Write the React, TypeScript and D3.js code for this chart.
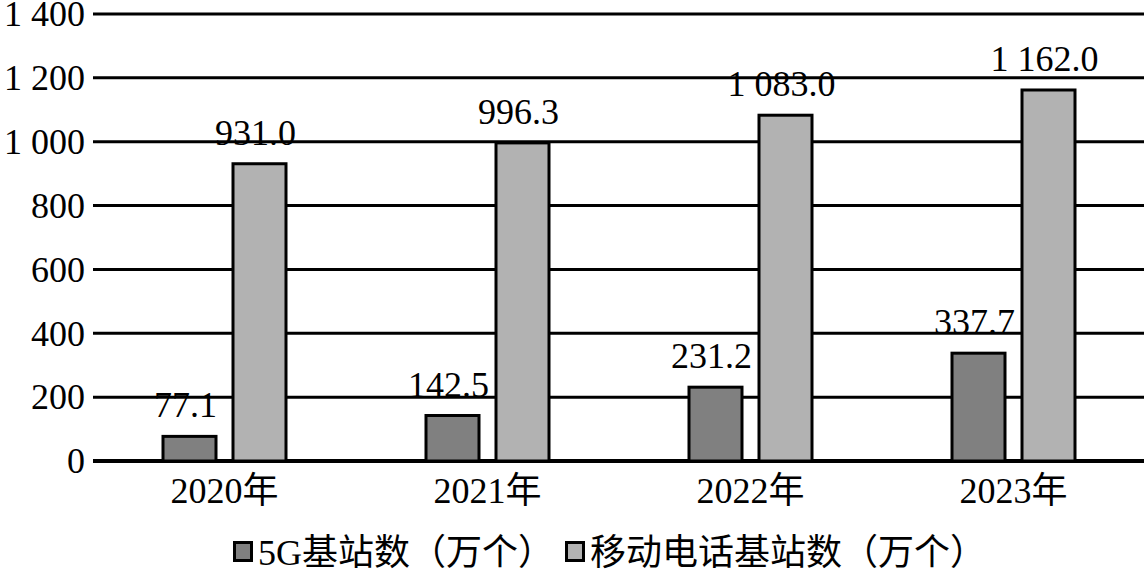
import { useEffect, useRef } from 'react';
import * as d3 from 'd3';

const years = ['2020年', '2021年', '2022年', '2023年'];
const seriesNames = ['5G基站数（万个）', '移动电话基站数（万个）'];
const fiveG = [77.1, 142.5, 231.2, 337.7];
const mobile = [931.0, 996.3, 1083.0, 1162.0];
const yTicks = [0, 200, 400, 600, 800, 1000, 1200, 1400];
const colors = ['#808080', '#b2b2b2'];

const locale = d3.formatLocale({ decimal: '.', thousands: ' ', grouping: [3], currency: ['', ''] });
const fmtTick = locale.format(',d');
const fmtVal = locale.format(',.1f');

export default function App() {
  const svgRef = useRef<SVGSVGElement>(null);

  useEffect(() => {
    if (!svgRef.current) return;
    const svg = d3.select(svgRef.current);
    svg.selectAll('*').remove();

    const width = 1144;
    const left = 93;
    const font = 'Liberation Serif';
    const cjkFont = "'Liberation Serif', 'Noto Sans CJK SC', serif";

    const y = d3.scaleLinear().domain([0, 1400]).range([461, 14]);
    const x0 = d3.scaleBand<string>().domain(years).range([left, left + 4 * 263]);
    const x1 = d3.scaleBand<number>().domain([0, 1]).range([0, 126]).paddingInner(0.2);

    // gridlines
    svg.append('g')
      .selectAll('line')
      .data(yTicks)
      .join('line')
      .attr('x1', left)
      .attr('x2', width)
      .attr('y1', d => y(d))
      .attr('y2', d => y(d))
      .attr('stroke', '#000')
      .attr('stroke-width', d => (d === 0 ? 4 : 3));

    // tick labels
    svg.append('g')
      .selectAll('text')
      .data(yTicks)
      .join('text')
      .attr('x', 85)
      .attr('y', d => y(d))
      .attr('dy', '0.34em')
      .attr('text-anchor', 'end')
      .attr('font-family', font)
      .attr('font-size', 36)
      .text(d => fmtTick(d));

    const series = [fiveG, mobile];
    const bars = series.flatMap((vals, s) =>
      vals.map((v, i) => ({ s, i, v }))
    );

    const bx = (d: { s: number; i: number }) =>
      (x0(years[d.i]) as number) + x0.bandwidth() / 2 - 63 + (x1(d.s) as number);

    svg.append('g')
      .selectAll('rect')
      .data(bars)
      .join('rect')
      .attr('x', d => bx(d) + 1.5)
      .attr('y', d => y(d.v))
      .attr('width', x1.bandwidth() - 3)
      .attr('height', d => y(0) - y(d.v))
      .attr('fill', d => colors[d.s])
      .attr('stroke', '#000')
      .attr('stroke-width', 3);

    svg.append('g')
      .selectAll('text')
      .data(bars)
      .join('text')
      .attr('x', d => bx(d) + x1.bandwidth() / 2 - 4)
      .attr('y', d => y(d.v) - 19)
      .attr('text-anchor', 'middle')
      .attr('font-family', font)
      .attr('font-size', 36)
      .text(d => fmtVal(d.v));

    // category labels
    svg.append('g')
      .selectAll('text')
      .data(years)
      .join('text')
      .attr('x', d => (x0(d) as number) + x0.bandwidth() / 2)
      .attr('y', 503)
      .attr('text-anchor', 'middle')
      .attr('font-family', cjkFont)
      .attr('font-size', 36)
      .text(d => d);

    // legend
    const legendX = [233, 565];
    const lg = svg.append('g')
      .selectAll('g')
      .data(seriesNames)
      .join('g')
      .attr('transform', (_, i) => `translate(${legendX[i]}, 0)`);
    lg.append('rect')
      .attr('x', 1.5)
      .attr('y', 542.5)
      .attr('width', 17)
      .attr('height', 18)
      .attr('fill', (_, i) => colors[i])
      .attr('stroke', '#000')
      .attr('stroke-width', 3);
    lg.append('text')
      .attr('x', 25)
      .attr('y', 565)
      .attr('font-family', cjkFont)
      .attr('font-size', 36)
      .text(d => d);
  }, []);

  return (
    <svg
      ref={svgRef}
      width={1144}
      height={569}
      style={{ position: 'absolute', left: 0, top: 0, background: '#fff' }}
    />
  );
}
